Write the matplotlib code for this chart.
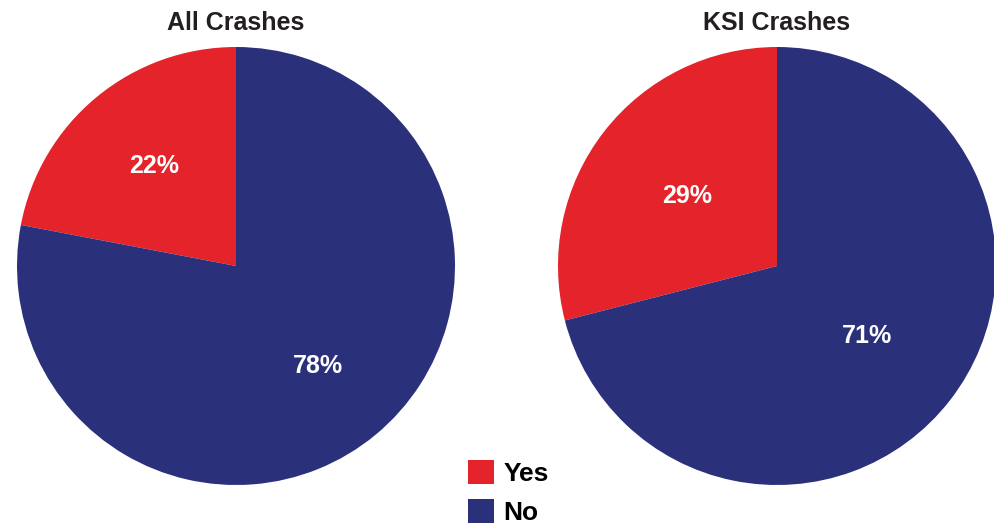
import matplotlib.pyplot as plt
from matplotlib.patches import Patch

plt.rcParams['font.family'] = ['Liberation Sans', 'DejaVu Sans']

# data
titles = ['All Crashes', 'KSI Crashes']
labels = ['Yes', 'No']
all_crashes = [22, 78]
ksi_crashes = [29, 71]

colors = ['#e4232b', '#2b307b']

W, H = 995, 527
fig = plt.figure(figsize=(W / 100, H / 100), dpi=100)


def draw_pie(ax, values, title, pctdist):
    wedges, texts, autotexts = ax.pie(values, colors=colors, startangle=90, counterclock=True,
                                      autopct='%d%%', pctdistance=pctdist, radius=1)
    plt.setp(autotexts, fontsize=18, color='white', fontweight='bold')
    ax.set_xlim(-1, 1)
    ax.set_ylim(-1, 1)
    ax.set_aspect('equal')
    ax.set_title(title, fontsize=18, fontweight='bold', color='#231f20', pad=12)


r = 219
for cx, values, title, pd_ in [(236, all_crashes, titles[0], 0.59),
                               (777, ksi_crashes, titles[1], 0.52)]:
    cy = 266
    ax = fig.add_axes([(cx - r) / W, (H - cy - r) / H, 2 * r / W, 2 * r / H])
    draw_pie(ax, values, title, pd_)

legend_element = [Patch(facecolor=colors[0], label=labels[0]),
                  Patch(facecolor=colors[1], label=labels[1])]
fig.legend(handles=legend_element, loc='lower left', bbox_to_anchor=(468 / W, 2 / H),
           frameon=False, handlelength=1.0, handleheight=1.0,
           handletextpad=0.35, labelspacing=0.5, borderpad=0, borderaxespad=0,
           prop={'weight': 'bold', 'size': 19})

plt.savefig('out.png', dpi=100)
plt.close()
